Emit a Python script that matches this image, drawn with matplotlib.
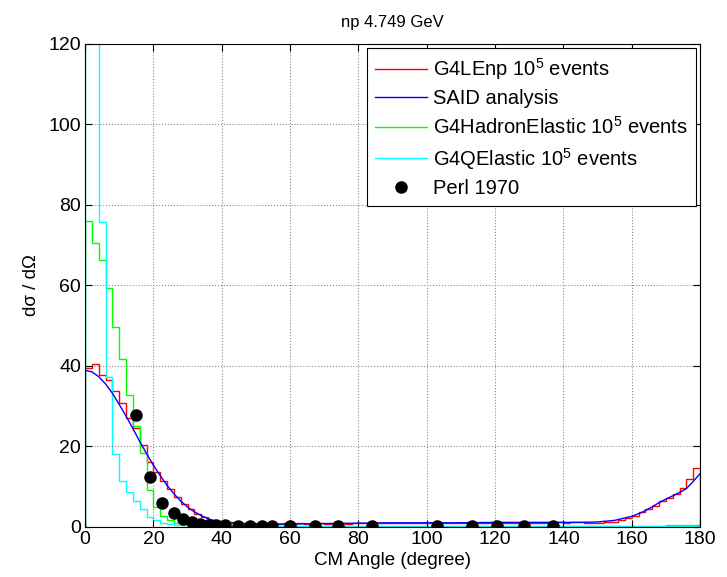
import numpy as np
import matplotlib
matplotlib.use("Agg")
import matplotlib.pyplot as plt

plt.rcParams['font.family'] = ['Liberation Sans', 'DejaVu Sans']
plt.rcParams['mathtext.default'] = 'regular'

# histogram bins, 2 degree wide
edges = np.arange(0, 182, 2)

g4lenp = [39.5, 40.5, 37.8, 36.5, 33.8, 30.8, 27.0, 24.5, 20.4, 16.2,
          13.5, 11.5, 9.3, 7.4, 5.6, 4.3, 3.2, 2.4, 1.8, 1.4,
          1.2, 1.1, 1.0, 0.9, 0.9, 0.8, 0.9, 0.8, 0.8, 0.9,
          0.8, 0.9, 0.8, 0.9, 0.9, 0.8, 0.9, 0.9, 0.8, 0.9,
          0.9, 0.9, 1.0, 0.9, 0.9, 1.0, 0.9, 1.0, 1.0, 0.9,
          1.0, 1.0, 0.9, 1.0, 1.0, 1.0, 0.9, 1.0, 1.0, 1.0,
          1.0, 1.0, 1.0, 1.0, 1.0, 1.0, 1.0, 1.0, 1.0, 1.1,
          1.0, 1.1, 1.1, 1.0, 1.0, 1.0, 1.1, 1.2, 1.6, 2.1,
          2.6, 3.6, 4.4, 5.2, 6.3, 7.2, 8.2, 9.7, 11.9, 14.7]

hadron_elastic = [76.0, 70.5, 66.2, 59.4, 49.7, 41.7, 32.8, 25.1, 18.4, 9.2,
                  5.0, 2.8, 1.6, 1.0, 0.7, 0.5, 0.45, 0.4, 0.4, 0.35,
                  0.35, 0.3, 0.35, 0.3, 0.3, 0.35, 0.3, 0.3, 0.3, 0.3,
                  0.3, 0.3, 0.3, 0.3, 0.3, 0.3, 0.3, 0.3, 0.3, 0.3,
                  0.3, 0.3, 0.3, 0.3, 0.3, 0.3, 0.3, 0.3, 0.3, 0.3,
                  0.3, 0.3, 0.3, 0.3, 0.3, 0.3, 0.3, 0.3, 0.3, 0.3,
                  0.3, 0.3, 0.3, 0.3, 0.3, 0.3, 0.3, 0.3, 0.3, 0.3,
                  0.3, 0.3, 0.3, 0.3, 0.3, 0.3, 0.3, 0.3, 0.3, 0.3,
                  0.3, 0.3, 0.3, 0.3, 0.3, 0.35, 0.35, 0.4, 0.4, 0.4]

q_elastic = [300.0, 200.0, 75.7, 37.3, 18.0, 11.4, 8.7, 6.5, 4.5, 2.5,
             1.6, 1.0, 0.7, 0.5, 0.4, 0.35, 0.3, 0.3, 0.25, 0.25,
             0.2, 0.2, 0.2, 0.2, 0.2, 0.2, 0.2, 0.2, 0.2, 0.2,
             0.2, 0.2, 0.2, 0.2, 0.2, 0.2, 0.2, 0.2, 0.2, 0.2,
             0.2, 0.2, 0.2, 0.2, 0.2, 0.2, 0.2, 0.2, 0.2, 0.2,
             0.2, 0.2, 0.2, 0.2, 0.2, 0.2, 0.2, 0.2, 0.2, 0.2,
             0.2, 0.2, 0.2, 0.2, 0.2, 0.2, 0.2, 0.2, 0.2, 0.2,
             0.2, 0.2, 0.2, 0.2, 0.2, 0.2, 0.2, 0.2, 0.2, 0.2,
             0.2, 0.2, 0.2, 0.2, 0.2, 0.2, 0.2, 0.2, 0.2, 0.2]

said_angle = [0, 2, 4, 6, 8, 10, 12, 14, 16, 18, 20, 22, 24, 26, 28, 30,
              32, 34, 36, 38, 40, 45, 50, 60, 70, 80, 90, 100, 110, 120,
              130, 140, 145, 150, 155, 158, 160, 163, 165, 168, 170, 173,
              175, 176, 178, 180]
said_value = [38.9, 38.5, 37.3, 35.5, 33.2, 30.4, 27.5, 24.4, 21.2, 18.2,
              15.3, 12.7, 10.3, 8.2, 6.4, 4.9, 3.7, 2.8, 2.0, 1.5, 1.1,
              0.8, 0.7, 0.7, 0.8, 0.9, 1.0, 1.0, 1.0, 1.1, 1.1, 1.1, 1.1,
              1.2, 1.6, 2.2, 2.6, 3.6, 4.5, 6.0, 6.9, 8.1, 9.0, 9.5, 11.3,
              13.2]

perl_angle = [15.0, 19.0, 22.6, 26.0, 28.7, 31.2, 33.6, 36.0, 38.3, 41.0,
              44.9, 48.3, 51.7, 54.6, 60.0, 67.3, 74.1, 83.9, 103.1, 113.3,
              120.7, 128.5, 137.0]
perl_value = [27.8, 12.4, 6.0, 3.5, 1.9, 1.1, 0.7, 0.5, 0.4, 0.35,
              0.3, 0.3, 0.3, 0.3, 0.3, 0.3, 0.3, 0.3, 0.3, 0.3,
              0.3, 0.3, 0.3]

fig = plt.figure(figsize=(7.27, 5.77), dpi=100)
ax = fig.add_axes([0.117, 0.087, 0.846, 0.837])

ax.stairs(g4lenp, edges, color='red', lw=1.0, label='G4LEnp 10$^5$ events')
ax.plot(said_angle, said_value, color='blue', lw=1.0, label='SAID analysis')
ax.stairs(hadron_elastic, edges, color=(0, 1, 0), lw=1.0,
          label='G4HadronElastic 10$^5$ events')
ax.stairs(q_elastic, edges, color=(0, 1, 1), lw=1.0,
          label='G4QElastic 10$^5$ events')
ax.plot(perl_angle, perl_value, 'o', color='black', ms=8, ls='none',
        label='Perl 1970')

ax.set_xlim(0, 180)
ax.set_ylim(0, 120)
ax.set_xticks(range(0, 181, 20))
ax.set_yticks(range(0, 121, 20))
ax.tick_params(direction='in', top=True, right=True, labelsize=14,
               length=5, width=0.8, pad=3)
ax.grid(True, ls=':', color='0.55', lw=0.8)
for s in ax.spines.values():
    s.set_linewidth(0.8)

ax.set_title('np 4.749 GeV', fontsize=12, pad=12)
ax.set_xlabel('CM Angle (degree)', fontsize=13.5, labelpad=3)
ax.set_ylabel('dσ / dΩ', fontsize=13.5, labelpad=6)

leg = ax.legend(loc='upper right', fontsize=14.5, fancybox=False,
                framealpha=1, edgecolor='black', handlelength=2.6,
                borderaxespad=0.2, labelspacing=0.38, handletextpad=0.3,
                borderpad=0.4)
leg.get_frame().set_linewidth(0.8)

fig.savefig('out.png', dpi=100)
